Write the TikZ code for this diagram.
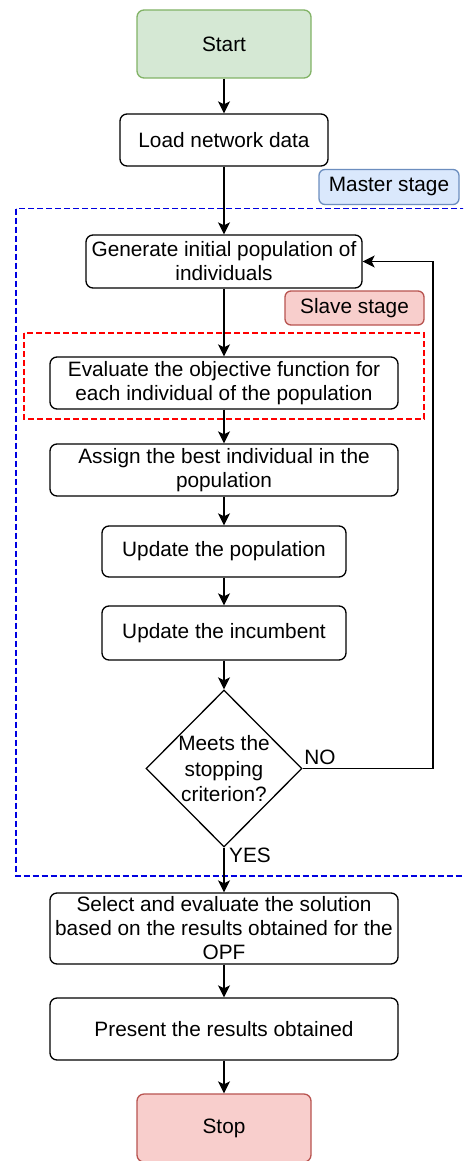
\documentclass[tikz,border=0pt]{standalone}
\usepackage{fontspec}
\setmainfont{Liberation Sans}
\usetikzlibrary{arrows.meta,shapes.geometric}
\definecolor{greenfill}{HTML}{D5E8D4}
\definecolor{greendraw}{HTML}{82B366}
\definecolor{redfill}{HTML}{F8CECC}
\definecolor{reddraw}{HTML}{B85450}
\definecolor{bluefill}{HTML}{DAE8FC}
\definecolor{bluedraw}{HTML}{6C8EBF}
\definecolor{dashblue}{HTML}{0000E0}
\definecolor{dashred}{HTML}{FF0000}
\begin{document}
\begin{tikzpicture}[x=1pt,y=-1pt,
  every node/.style={font=\fontsize{20.8}{24}\selectfont, inner sep=0pt, align=center},
  proc/.style={draw, rounded corners=7pt, line width=1.3pt, fill=white},
  terminal/.style={proc},
  tag/.style={draw, rounded corners=6pt, line width=1.3pt},
  arr/.style={line width=1.6pt, -{Stealth[length=12pt,width=12pt,inset=3pt]}},
  plainline/.style={line width=1.6pt},
  region/.style={line width=1.5pt, dash pattern=on 6pt off 3pt}]
\useasboundingbox (0,0) rectangle (463,1161);
\clip (0,0) rectangle (463,1161);
\fill[white] (0,0) rectangle (463,1161);

% regions
\draw[region, dashblue] (16,208.5) rectangle (478,876);
\draw[region, dashred] (24,333) rectangle (424,419);

% nodes
\node[terminal, fill=greenfill, draw=greendraw, minimum width=174pt, minimum height=68pt] (start) at (224,44) {Start};
\node[proc, minimum width=208pt, minimum height=52pt] (load) at (224,140) {Load network data};
\node[tag, fill=bluefill, draw=bluedraw, minimum width=140pt, minimum height=35pt] (master) at (389,187) {Master stage};
\node[proc, minimum width=276pt, minimum height=53pt] (gen) at (224,261.5) {Generate initial population of\\individuals};
\node[tag, fill=redfill, draw=reddraw, minimum width=139pt, minimum height=34pt] (slave) at (354.5,308) {Slave stage};
\node[proc, minimum width=348pt, minimum height=52pt] (eval) at (224,383) {Evaluate the objective function for\\each individual of the population};
\node[proc, minimum width=348pt, minimum height=52pt] (assign) at (224,470) {Assign the best individual in the\\population};
\node[proc, minimum width=244pt, minimum height=51pt] (updpop) at (224,551.5) {Update the population};
\node[proc, minimum width=244pt, minimum height=54pt] (updinc) at (224,633) {Update the incumbent};
\node[diamond, draw, line width=1.3pt, minimum width=156pt, minimum height=157pt, aspect=1] (dec) at (224,768.5) {};
\node[font=\fontsize{20.8}{25.5}\selectfont] (dectext) at (224,769) {Meets the\\stopping\\criterion?};
\node[proc, minimum width=348pt, minimum height=71pt] (select) at (224,928.5) {Select and evaluate the solution\\based on the results obtained for the\\OPF};
\node[proc, minimum width=348pt, minimum height=62pt] (present) at (224,1029) {Present the results obtained};
\node[terminal, fill=redfill, draw=reddraw, minimum width=174pt, minimum height=68pt] (stop) at (224,1128) {Stop};

% connectors
\coordinate (loopc) at (433,768.5);
\draw[arr] (start) -- (load);
\draw[arr] (load) -- (gen);
\draw[arr] (gen) -- (eval);
\draw[arr] (eval) -- (assign);
\draw[arr] (assign) -- (updpop);
\draw[arr] (updpop) -- (updinc);
\draw[arr] (updinc) -- (dec);
\draw[arr] (dec.south) -- (select);
\draw[arr] (select) -- (present);
\draw[arr] (present) -- (stop);
\draw[arr] (dec.east) -- (loopc) |- (gen.east);

\node (no) at (320,757) {NO};
\node (yes) at (250,855) {YES};
\end{tikzpicture}
\end{document}
